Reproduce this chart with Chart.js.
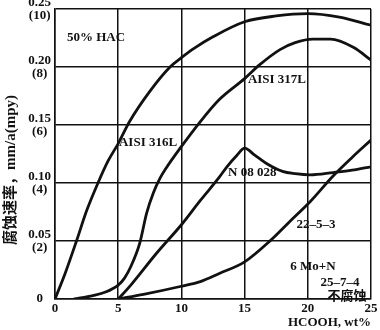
<!DOCTYPE html>
<html><head><meta charset="utf-8">
<script src="https://cdn.jsdelivr.net/npm/chart.js@4.4.1/dist/chart.umd.min.js"></script>
<style>html,body{margin:0;padding:0;background:#fff}#wrap{width:380px;height:330px}</style>
</head><body><div id="wrap"><canvas id="c"></canvas></div>
<script>
// ---- tick labels / axis titles ----
const xTicks = [0, 5, 10, 15, 20, 25];
const yTicks = [0, 0.05, 0.10, 0.15, 0.20, 0.25];
const yTickLabels = [['0'], ['0.05', '(2)'], ['0.10', '(4)'], ['0.15', '(6)'], ['0.20', '(8)'], ['0.25', '(10)']];
const xTitle = 'HCOOH, wt%';
const yTitle = '腐蚀速率，mm/a(mpy)';

// ---- series (x = HCOOH wt%, y = corrosion rate mm/a) ----
const x316L = [0, 0.8, 1.7, 2.5, 3.4, 4.2, 5, 5.9, 7.5, 9.1, 10, 11, 12.5, 15, 17.5, 20, 22.5, 25];
const y316L = [0, 0.022, 0.05, 0.076, 0.1, 0.119, 0.134, 0.153, 0.179, 0.200, 0.208, 0.216, 0.226, 0.239, 0.244, 0.246, 0.243, 0.236];

const x317L = [1.5, 3, 4, 5, 5.5, 6, 6.7, 7.25, 7.8, 8.3, 8.8, 9.9, 11.5, 13, 15, 16.2, 17.8, 19, 20.4, 21.8, 23.6, 25];
const y317L = [0, 0.003, 0.006, 0.012, 0.018, 0.028, 0.048, 0.074, 0.092, 0.104, 0.113, 0.130, 0.153, 0.172, 0.190, 0.202, 0.215, 0.221, 0.224, 0.224, 0.217, 0.206];

const xN08028 = [5, 6, 8, 10, 11.5, 13, 13.6, 14.4, 15, 15.8, 16.7, 18, 19, 20.2, 22, 23.5, 25];
const yN08028 = [0, 0.012, 0.039, 0.064, 0.085, 0.105, 0.114, 0.124, 0.130, 0.124, 0.117, 0.110, 0.108, 0.107, 0.109, 0.111, 0.114];

const x2253 = [5, 7, 10, 11.5, 13, 15, 17.1, 18.5, 20.2, 22, 23.5, 25];
const y2253 = [0, 0.004, 0.011, 0.015, 0.022, 0.032, 0.051, 0.066, 0.084, 0.106, 0.122, 0.137];

// ---- text annotations (data coordinates) ----
const noteText = ['50% HAC', 'AISI 316L', 'AISI 317L', 'N 08 028', '22–5–3', '6 Mo+N', '25–7–4', '不腐蚀'];
const noteX = [3.24, 7.36, 17.56, 15.6, 20.65, 20.4, 22.55, 23.1];
const noteY = [0.225, 0.1345, 0.189, 0.1086, 0.0638, 0.0276, 0.0138, 0.0017];

const INK = '#111';
const SERIF = '"Liberation Serif", "Noto Sans CJK SC", serif';

function curve(xs, ys) {
  return {
    data: xs.map((x, i) => ({ x: x, y: ys[i] })),
    borderColor: INK, borderWidth: 2.8, pointRadius: 0, fill: false,
    cubicInterpolationMode: 'monotone'
  };
}

const notesPlugin = {
  id: 'notes',
  afterDatasetsDraw(chart) {
    const ctx = chart.ctx, sx = chart.scales.x, sy = chart.scales.y, a = chart.chartArea;
    ctx.save();
    ctx.fillStyle = INK;
    ctx.font = 'bold 13px ' + SERIF;
    ctx.textAlign = 'center';
    ctx.textBaseline = 'middle';
    noteText.forEach((t, i) => {
      ctx.fillText(t, sx.getPixelForValue(noteX[i]), sy.getPixelForValue(noteY[i]));
    });
    // rotated y-axis title
    ctx.translate(11, a.top + (a.bottom - a.top) * 0.555);
    ctx.rotate(-Math.PI / 2);
    ctx.font = 'bold 15px ' + SERIF;
    ctx.fillText(yTitle, 0, 0);
    ctx.restore();
  }
};

new Chart(document.getElementById('c'), {
  type: 'line',
  data: {
    datasets: [curve(x316L, y316L), curve(x317L, y317L), curve(xN08028, yN08028), curve(x2253, y2253)]
  },
  options: {
    responsive: true, maintainAspectRatio: false, animation: false,
    layout: { padding: { top: 9, right: 9, left: 0, bottom: 0 } },
    plugins: { legend: { display: false }, tooltip: { enabled: false } },
    scales: {
      x: {
        type: 'linear', min: 0, max: 25,
        afterBuildTicks: s => { s.ticks = xTicks.map(v => ({ value: v })); },
        afterFit: s => { s.height = 31; s.paddingLeft = 0; s.paddingRight = 0; },
        ticks: { color: INK, font: { family: SERIF, size: 13, weight: 'bold' }, padding: 2, maxRotation: 0 },
        grid: { color: INK, lineWidth: 1.5, drawTicks: false },
        border: { color: INK, width: 1.5 },
        title: { display: true, text: xTitle, align: 'end', color: INK,
                 font: { family: SERIF, size: 13, weight: 'bold' }, padding: { top: 0, bottom: 0 } }
      },
      y: {
        min: 0, max: 0.25,
        afterBuildTicks: s => { s.ticks = yTicks.map(v => ({ value: v })); },
        afterFit: s => { s.width = 55; s.paddingTop = 0; s.paddingBottom = 0; },
        ticks: {
          color: INK, font: { family: SERIF, size: 13, weight: 'bold', lineHeight: 0.95 },
          padding: 4, crossAlign: 'center',
          callback: (v, i) => yTickLabels[i]
        },
        grid: { color: INK, lineWidth: 1.5, drawTicks: false },
        border: { color: INK, width: 1.5 },
        title: { display: false }
      }
    }
  },
  plugins: [notesPlugin]
});
</script>
</body></html>
